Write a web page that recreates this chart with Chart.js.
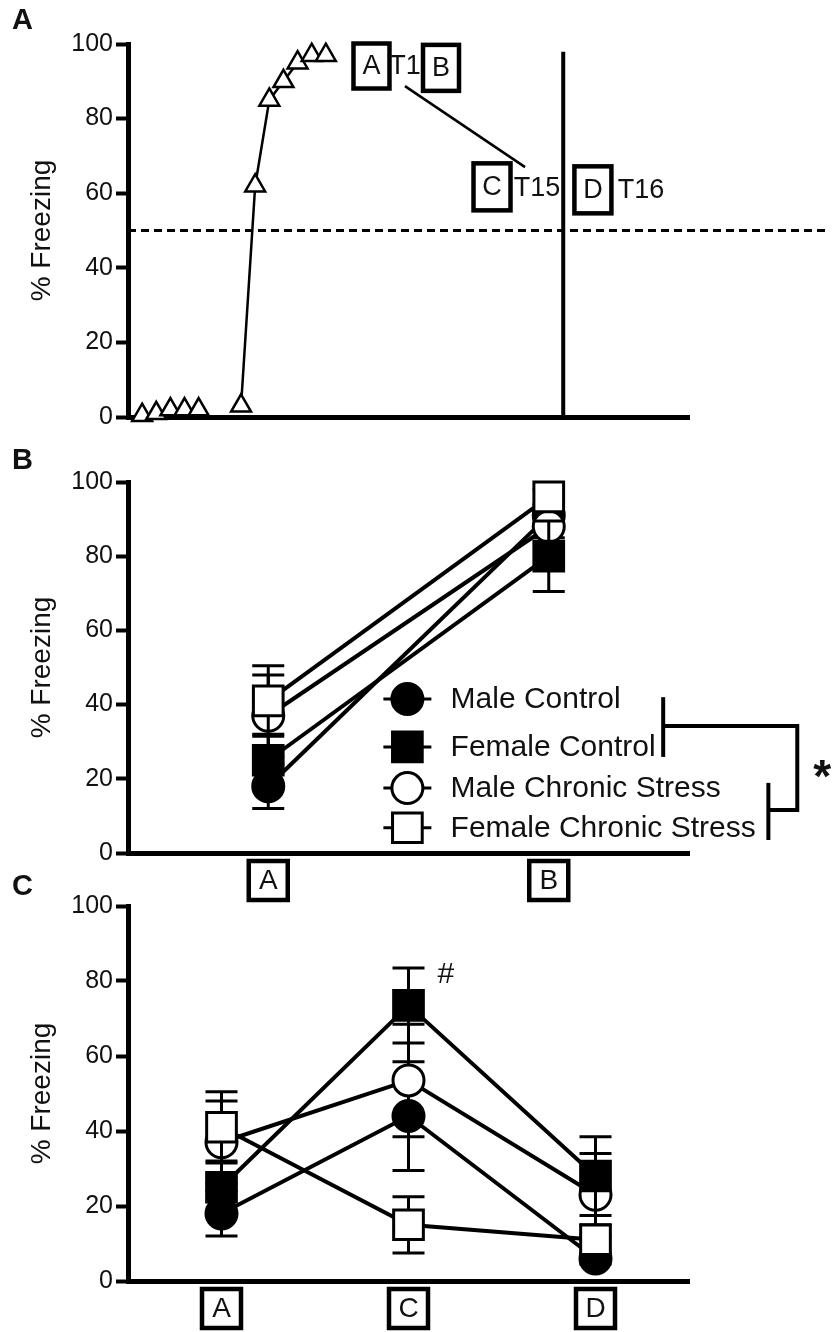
<!DOCTYPE html>
<html>
<head>
<meta charset="utf-8">
<script src="https://cdn.jsdelivr.net/npm/chart.js@4.4.0/dist/chart.umd.min.js"></script>
<style>
  html, body { margin: 0; padding: 0; background: #fff; }
  #wrap { position: relative; width: 832px; height: 1332px; }
  canvas { position: absolute; left: 0; }
</style>
</head>
<body>
<div id="wrap">
  <canvas id="chartA" width="832" height="440" style="top:0px"></canvas>
  <canvas id="chartB" width="832" height="470" style="top:440px"></canvas>
  <canvas id="chartC" width="832" height="462" style="top:870px"></canvas>
</div>
<script>
// ---- panel A: acquisition trials ----
const baseTrials = [1, 2, 3, 4, 5];
const baseFreezing = [0.5, 1, 2, 2, 2];
const trainTrials = [8, 9, 10, 11, 12, 13, 14];
const trainFreezing = [3, 62, 85, 90, 95, 97, 97];
const criterion = 50;

// ---- groups ----
const groups = ["Male Control", "Female Control", "Male Chronic Stress", "Female Chronic Stress"];

// ---- panel B: context A vs B ----
const testsB = ["A", "B"];
const maleCtrlB = [18, 91];
const maleCtrlBErr = [6, 3];
const femCtrlB = [25, 80];
const femCtrlBErr = [7, 9.5];
const maleStressB = [37, 88];
const maleStressBErr = [11, 3];
const femStressB = [41, 96];
const femStressBErr = [9.5, 2];

// ---- panel C: contexts A, C, D ----
const testsC = ["A", "C", "D"];
const maleCtrlC = [18, 44, 6];
const maleCtrlCErr = [6, 14.5, 1.5];
const femCtrlC = [25, 73.5, 28];
const femCtrlCErr = [7, 10, 10.5];
const maleStressC = [37, 53.5, 23];
const maleStressCErr = [11, 15, 11];
const femStressC = [41, 15, 11];
const femStressCErr = [9.5, 7.5, 4];

const FONT = "'Liberation Sans', Arial, sans-serif";
const INK = "#000";
const TXT = "#111";
const R_CIRCLE = 15.5;
const R_RECT = 21;

function yAxis() {
  return {
    min: 0, max: 100,
    ticks: { stepSize: 20, color: TXT, font: { family: FONT, size: 25 }, padding: 3 },
    grid: { display: true, drawOnChartArea: false, drawTicks: true, tickLength: 12, tickWidth: 4, tickColor: INK },
    border: { display: true, color: INK, width: 5 },
    title: { display: true, text: "% Freezing", color: TXT, font: { family: FONT, size: 28 }, padding: { top: 25, bottom: 0 } },
    afterFit: (s) => { s.width = 128; }
  };
}

function xAxisCat(h) {
  return {
    type: "category", offset: true,
    ticks: { display: false },
    grid: { display: false },
    border: { display: true, color: INK, width: 5 },
    afterFit: (s) => { s.height = h; }
  };
}

// marker look per group: [pointStyle, filled, draw order]
const looks = [["circle", true, 3], ["rect", true, 1], ["circle", false, 2], ["rect", false, 0]];

function groupDs(i, data, errs) {
  const [style, filled, order] = looks[i];
  const r = style === "rect" ? R_RECT : R_CIRCLE;
  return {
    label: groups[i], data: data, errors: errs, order: order,
    borderColor: INK, borderWidth: 4, tension: 0, clip: false,
    pointStyle: style, pointRadius: r, pointHoverRadius: r,
    pointBorderWidth: 3, pointBorderColor: INK,
    pointBackgroundColor: filled ? INK : "#fff", backgroundColor: filled ? INK : "#fff"
  };
}

const errorBars = {
  id: "errorBars",
  beforeDatasetDraw(chart, args) {
    const ds = chart.data.datasets[args.index];
    if (!ds.errors) return;
    const { ctx, scales: { x, y } } = chart;
    ctx.save();
    ctx.strokeStyle = INK;
    ctx.lineWidth = 3;
    ds.data.forEach((v, i) => {
      const px = x.getPixelForValue(i);
      const lo = y.getPixelForValue(v - ds.errors[i]);
      const hi = y.getPixelForValue(v + ds.errors[i]);
      ctx.beginPath();
      ctx.moveTo(px, lo); ctx.lineTo(px, hi);
      ctx.moveTo(px - 16, lo); ctx.lineTo(px + 16, lo);
      ctx.moveTo(px - 16, hi); ctx.lineTo(px + 16, hi);
      ctx.stroke();
    });
    ctx.restore();
  }
};

function boxedText(ctx, txt, cx, cy, w, h, size) {
  ctx.save();
  ctx.strokeStyle = INK;
  ctx.lineWidth = 4.5;
  ctx.strokeRect(cx - w / 2, cy - h / 2, w, h);
  ctx.fillStyle = TXT;
  ctx.font = size + "px " + FONT;
  ctx.textAlign = "center";
  ctx.textBaseline = "middle";
  ctx.fillText(txt, cx, cy + 1);
  ctx.restore();
}

function panelLetter(letter, y) {
  return {
    id: "panel" + letter,
    afterDraw(chart) {
      const ctx = chart.ctx;
      ctx.save();
      ctx.fillStyle = TXT;
      ctx.font = "bold 29px " + FONT;
      ctx.textAlign = "left";
      ctx.textBaseline = "middle";
      ctx.fillText(letter, 12, y);
      ctx.restore();
    }
  };
}

// boxed context letters under the category axis
const contextBoxes = {
  id: "contextBoxes",
  afterDraw(chart) {
    const x = chart.scales.x;
    chart.data.labels.forEach((lab, i) => {
      boxedText(chart.ctx, lab, x.getPixelForValue(i), x.top + 27.5, 39, 39, 28);
    });
  }
};

// ---------- Panel A ----------
const annBoxes = [
  { t: "A", x: 17.23, y: 94.1, w: 36, h: 45 },
  { t: "B", x: 22.15, y: 93.6, w: 36, h: 46 },
  { t: "C", x: 25.76, y: 61.7, w: 37, h: 47 },
  { t: "D", x: 32.9, y: 60.9, w: 37, h: 47 }
];
const annTexts = [
  { t: "T1", x: 19.6, y: 94.1 },
  { t: "T15", x: 28.95, y: 61.4 },
  { t: "T16", x: 36.3, y: 60.9 }
];

const annotationsA = {
  id: "annotationsA",
  afterDraw(chart) {
    const { ctx, scales: { x, y } } = chart;
    annBoxes.forEach(b => boxedText(ctx, b.t, x.getPixelForValue(b.x), y.getPixelForValue(b.y), b.w, b.h, 27));
    ctx.save();
    ctx.fillStyle = TXT;
    ctx.font = "27px " + FONT;
    ctx.textAlign = "center";
    ctx.textBaseline = "middle";
    annTexts.forEach(t => ctx.fillText(t.t, x.getPixelForValue(t.x), y.getPixelForValue(t.y) + 1));
    ctx.restore();
  }
};

const triStyle = {
  borderColor: INK, borderWidth: 2.5, tension: 0, clip: false,
  pointStyle: "triangle", pointRadius: 11.5, pointHoverRadius: 11.5,
  pointBorderWidth: 2.5, pointBorderColor: INK, pointBackgroundColor: "#fff"
};

new Chart(document.getElementById("chartA"), {
  type: "line",
  data: {
    datasets: [
      Object.assign({ data: baseTrials.map((t, i) => ({ x: t, y: baseFreezing[i] })) }, triStyle),
      Object.assign({ data: trainTrials.map((t, i) => ({ x: t, y: trainFreezing[i] })) }, triStyle),
      { data: [{ x: 0, y: criterion }, { x: 49.6, y: criterion }], borderColor: INK, borderWidth: 3, borderDash: [8, 5], pointRadius: 0, clip: false },
      { data: [{ x: 30.8, y: 0 }, { x: 30.8, y: 97.9 }], borderColor: INK, borderWidth: 4, pointRadius: 0, clip: false },
      { data: [{ x: 19.6, y: 88.7 }, { x: 28.1, y: 67 }], borderColor: INK, borderWidth: 2.5, pointRadius: 0, clip: false }
    ]
  },
  options: {
    responsive: false, animation: false, events: [],
    layout: { padding: { top: 44, right: 143, bottom: 0, left: 0 } },
    plugins: { legend: { display: false }, tooltip: { enabled: false } },
    scales: {
      x: {
        type: "linear", min: 0, max: 39.7,
        ticks: { display: false }, grid: { display: false },
        border: { display: true, color: INK, width: 5 },
        afterFit: (s) => { s.height = 23; }
      },
      y: yAxis()
    }
  },
  plugins: [annotationsA, panelLetter("A", 21)]
});

// ---------- Panel B ----------
const legendRowsB = [41.5, 28.6, 17.5, 6.8];
const bracketB = [
  [[1.408, 42.0], [1.408, 25.9]],
  [[1.408, 34.2], [1.886, 34.2], [1.886, 11.6], [1.783, 11.6]],
  [[1.783, 18.9], [1.783, 3.5]]
];

const legendB = {
  id: "legendB",
  afterDraw(chart) {
    const { ctx, scales: { x, y } } = chart;
    const mx = x.getPixelForValue(0.496);
    const tx = x.getPixelForValue(0.65);
    ctx.save();
    groups.forEach((g, i) => {
      const [style, filled] = looks[i];
      const py = y.getPixelForValue(legendRowsB[i]);
      ctx.strokeStyle = INK;
      ctx.lineWidth = 3;
      ctx.beginPath();
      ctx.moveTo(mx - 24, py); ctx.lineTo(mx + 24, py);
      ctx.stroke();
      ctx.fillStyle = filled ? INK : "#fff";
      ctx.lineWidth = 3;
      Chart.helpers.drawPoint(ctx, { pointStyle: style, radius: style === "rect" ? R_RECT : R_CIRCLE, rotation: 0, borderWidth: 3 }, mx, py);
      ctx.fillStyle = TXT;
      ctx.font = "30px " + FONT;
      ctx.textAlign = "left";
      ctx.textBaseline = "middle";
      ctx.fillText(g, tx, py + 1);
    });
    ctx.strokeStyle = INK;
    ctx.lineWidth = 4;
    bracketB.forEach(seg => {
      ctx.beginPath();
      seg.forEach(([vx, vy], k) => {
        const px = x.getPixelForValue(vx), py = y.getPixelForValue(vy);
        if (k === 0) ctx.moveTo(px, py); else ctx.lineTo(px, py);
      });
      ctx.stroke();
    });
    ctx.fillStyle = TXT;
    ctx.font = "bold 46px " + FONT;
    ctx.textAlign = "center";
    ctx.textBaseline = "middle";
    ctx.fillText("*", x.getPixelForValue(1.975), y.getPixelForValue(23.2) + 12);
    ctx.restore();
  }
};

new Chart(document.getElementById("chartB"), {
  type: "line",
  data: {
    labels: testsB,
    datasets: [
      groupDs(0, maleCtrlB, maleCtrlBErr),
      groupDs(1, femCtrlB, femCtrlBErr),
      groupDs(2, maleStressB, maleStressBErr),
      groupDs(3, femStressB, femStressBErr)
    ]
  },
  options: {
    responsive: false, animation: false, events: [],
    layout: { padding: { top: 42, right: 143, bottom: 0, left: 0 } },
    plugins: { legend: { display: false }, tooltip: { enabled: false } },
    scales: { x: xAxisCat(57), y: yAxis() }
  },
  plugins: [errorBars, contextBoxes, legendB, panelLetter("B", 21)]
});

// ---------- Panel C ----------
const hashMark = { x: 1.2, y: 81.6 };

const hashC = {
  id: "hashC",
  afterDraw(chart) {
    const { ctx, scales: { x, y } } = chart;
    ctx.save();
    ctx.fillStyle = TXT;
    ctx.font = "30px " + FONT;
    ctx.textAlign = "center";
    ctx.textBaseline = "middle";
    ctx.fillText("#", x.getPixelForValue(hashMark.x), y.getPixelForValue(hashMark.y));
    ctx.restore();
  }
};

new Chart(document.getElementById("chartC"), {
  type: "line",
  data: {
    labels: testsC,
    datasets: [
      groupDs(0, maleCtrlC, maleCtrlCErr),
      groupDs(1, femCtrlC, femCtrlCErr),
      groupDs(2, maleStressC, maleStressCErr),
      groupDs(3, femStressC, femStressCErr)
    ]
  },
  options: {
    responsive: false, animation: false, events: [],
    layout: { padding: { top: 36, right: 143, bottom: 0, left: 0 } },
    plugins: { legend: { display: false }, tooltip: { enabled: false } },
    scales: { x: xAxisCat(51), y: yAxis() }
  },
  plugins: [errorBars, contextBoxes, hashC, panelLetter("C", 17)]
});
</script>
</body>
</html>
